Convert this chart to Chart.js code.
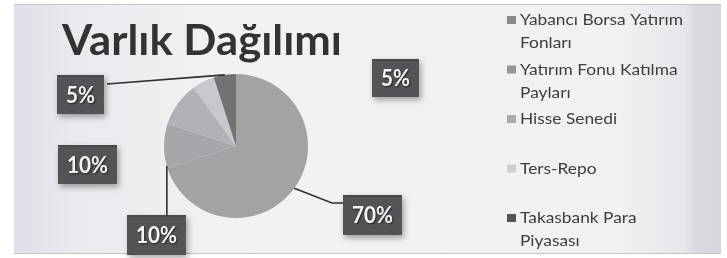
<!DOCTYPE html>
<html>
<head>
<meta charset="utf-8">
<script src="https://cdn.jsdelivr.net/npm/chart.js@4"></script>
<style>
  html, body { margin: 0; padding: 0; background: #ffffff; }
  #chart { display: block; }
</style>
</head>
<body>
<canvas id="chart" width="727" height="258"></canvas>
<script>
// chart data
const categories = [
    ['Yabancı Borsa Yatırım', 'Fonları'],
    ['Yatırım Fonu Katılma', 'Payları'],
    ['Hisse Senedi'],
    ['Ters-Repo'],
    ['Takasbank Para', 'Piyasası']
];
const shares = [70, 10, 10, 5, 5];
const valueLabels = ['70%', '10%', '10%', '5%', '5%'];
const chartTitle = 'Varlık Dağılımı';

const sliceColors = ['#a3a3a5', '#a7a7ab', '#b1b1b7', '#c7c7cd', '#727274'];
const legendColors = ['#8a8a8e', '#96969a', '#ababaf', '#cfcfd3', '#555557'];

// where each value box sits (like a hand-placed Excel label)
const labelBoxes = [
    { x: 343, y: 195, h: 40, line: 'elbow', elbow: [332, 203], frac: 0.5 },
    { x: 127, y: 215, h: 40, line: 'down', frac: 0.05 },
    { x: 58, y: 145, h: 39, line: null },
    { x: 372, y: 59, h: 38, line: null },
    { x: 57, y: 75, h: 39, line: 'straight', frac: 0.5 }
];

function fitText(ctx, text, x, y, width) {
    const w = ctx.measureText(text).width;
    ctx.save();
    ctx.translate(x, y);
    ctx.scale(width / w, 1);
    ctx.fillText(text, 0, 0);
    ctx.restore();
}

function arcPoint(arc, frac) {
    const p = arc.getProps(['x', 'y', 'startAngle', 'endAngle', 'outerRadius'], true);
    const a = p.startAngle + (p.endAngle - p.startAngle) * frac;
    return { x: p.x + Math.cos(a) * p.outerRadius, y: p.y + Math.sin(a) * p.outerRadius };
}

const paperPlugin = {
    id: 'paper',
    beforeDraw(chart) {
        const ctx = chart.ctx;
        ctx.save();
        ctx.fillStyle = '#ffffff';
        ctx.fillRect(0, 0, chart.width, chart.height);
        const g = ctx.createLinearGradient(14, 0, 721, 0);
        g.addColorStop(0, '#e0dee6');
        g.addColorStop(0.08, '#eae9ee');
        g.addColorStop(0.3, '#f2f2f4');
        g.addColorStop(0.85, '#f1f1f3');
        g.addColorStop(0.95, '#e6e5ea');
        g.addColorStop(0.965, '#dad8df');
        g.addColorStop(1, '#d8d6dd');
        ctx.fillStyle = g;
        ctx.fillRect(14, 4, 707, 250);
        ctx.strokeStyle = '#c4c4c8';
        ctx.lineWidth = 1;
        ctx.beginPath();
        ctx.moveTo(14, 4.5); ctx.lineTo(721, 4.5);
        ctx.moveTo(14, 253.5); ctx.lineTo(721, 253.5);
        ctx.stroke();
        ctx.restore();
    },
    afterDraw(chart) {
        const ctx = chart.ctx;
        ctx.save();
        // title
        ctx.fillStyle = '#333335';
        ctx.font = 'bold 42px Lato';
        ctx.textBaseline = 'alphabetic';
        fitText(ctx, chartTitle, 62, 55, 280);

        // legend, squeezed so the first line is as wide as in the picture
        ctx.font = '16px Lato';
        ctx.textBaseline = 'middle';
        const squeeze = 163 / ctx.measureText(chart.data.labels[0][0]).width;
        chart.data.labels.forEach((lines, i) => {
            const y0 = 20 + i * 49.5;
            ctx.fillStyle = legendColors[i];
            ctx.fillRect(507, y0 - 4, 9, 8);
            ctx.fillStyle = '#3e3e40';
            lines.forEach((t, k) => {
                const w = ctx.measureText(t).width;
                fitText(ctx, t, 520, y0 + k * 23, w * squeeze);
            });
        });
        ctx.restore();
    },
    afterDatasetsDraw(chart) {
        const ctx = chart.ctx;
        const arcs = chart.getDatasetMeta(0).data;
        ctx.save();
        // leader lines
        ctx.strokeStyle = '#2e2e30';
        ctx.lineWidth = 1.6;
        labelBoxes.forEach((b, i) => {
            if (!b.line) return;
            const p = arcPoint(arcs[i], b.frac);
            ctx.beginPath();
            ctx.moveTo(p.x, p.y);
            if (b.line === 'elbow') {
                ctx.lineTo(b.elbow[0], b.elbow[1]);
                ctx.lineTo(b.x, b.elbow[1]);
            } else if (b.line === 'down') {
                ctx.lineTo(p.x, b.y);
            } else {
                ctx.lineTo(b.x + 50, b.y + 9);
            }
            ctx.stroke();
        });

        // value boxes
        ctx.font = 'bold 23px Lato';
        ctx.textAlign = 'center';
        ctx.textBaseline = 'middle';
        chart.data.datasets[0].data.forEach((v, i) => {
            const b = labelBoxes[i];
            const txt = valueLabels[i];
            const w = ctx.measureText(txt).width * 0.9 + 18;
            ctx.save();
            ctx.shadowColor = 'rgba(0,0,0,0.35)';
            ctx.shadowBlur = 6;
            ctx.shadowOffsetX = 2;
            ctx.shadowOffsetY = 3;
            ctx.fillStyle = '#545456';
            ctx.fillRect(b.x, b.y, w, b.h);
            ctx.restore();
            ctx.fillStyle = '#4a4a4c';
            ctx.fillRect(b.x, b.y, w, 2);
            ctx.save();
            ctx.shadowColor = 'rgba(0,0,0,0.6)';
            ctx.shadowBlur = 2;
            ctx.shadowOffsetX = 1;
            ctx.shadowOffsetY = 1;
            ctx.fillStyle = '#f4f4f4';
            ctx.translate(b.x + w / 2, b.y + b.h / 2 + 1);
            ctx.scale(0.9, 1);
            ctx.fillText(txt, 0, 0);
            ctx.restore();
        });
        ctx.restore();
    }
};

new Chart(document.getElementById('chart'), {
    type: 'pie',
    data: {
        labels: categories,
        datasets: [{
            data: shares,
            backgroundColor: sliceColors,
            borderWidth: 0,
            hoverOffset: 0
        }]
    },
    options: {
        responsive: false,
        animation: false,
        layout: { padding: { left: 164, right: 419, top: 74, bottom: 40 } },
        plugins: {
            legend: { display: false },
            title: { display: false },
            tooltip: { enabled: false }
        }
    },
    plugins: [paperPlugin]
});
</script>
</body>
</html>
